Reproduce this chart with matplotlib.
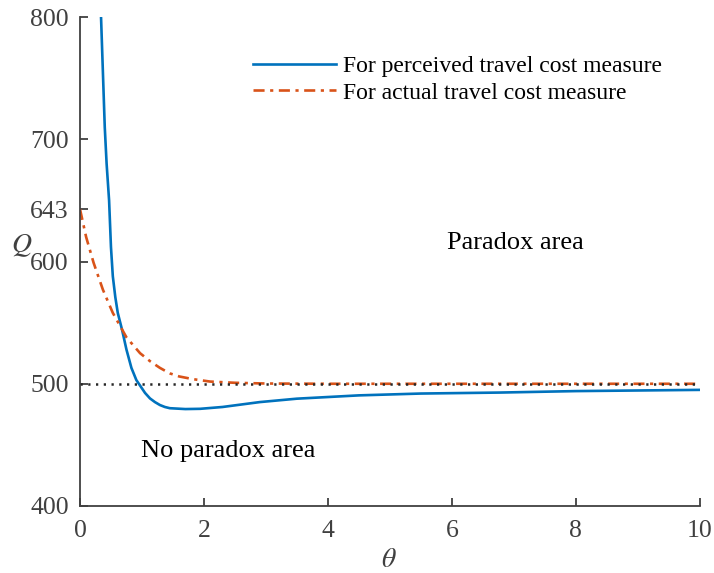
import numpy as np
import matplotlib
matplotlib.use("Agg")
import matplotlib.pyplot as plt

plt.rcParams['font.family'] = ['Liberation Serif', 'DejaVu Serif']
plt.rcParams['mathtext.fontset'] = 'stix'

# perceived travel cost measure
theta_perceived = [0.34, 0.37, 0.40, 0.43, 0.47, 0.50, 0.53, 0.57, 0.61, 0.68,
                   0.75, 0.83, 0.91, 0.97, 1.05, 1.13, 1.21, 1.29, 1.37, 1.45,
                   1.70, 1.94, 2.30, 2.90, 3.50, 4.50, 5.50, 6.77, 8.00, 10.0]
q_perceived = [800, 755, 710, 680, 650, 612, 588, 571, 558, 544,
               528, 513, 503, 498.5, 492.5, 488, 485, 482.6, 481, 480,
               479.3, 479.5, 481, 485, 487.8, 490.5, 492, 492.8, 494, 495]

# actual travel cost measure
theta_actual = [0, 0.10, 0.22, 0.37, 0.53, 0.75, 0.97, 1.13, 1.29, 1.45,
                1.60, 1.82, 2.10, 2.50, 3.00, 4.00, 10.0]
q_actual = [643, 620, 599, 577, 558, 538, 525, 518.5, 513, 508.5,
            506, 503.8, 501.8, 500.8, 500.2, 500, 500]

q_threshold = 500
yticks = [400, 500, 600, 643, 700, 800]
xticks = [0, 2, 4, 6, 8, 10]

fig = plt.figure(figsize=(7.14, 5.73), dpi=100)
ax = fig.add_axes([0.112, 0.117, 0.868, 0.853])

ax.plot(theta_perceived, q_perceived, color='#0072BD', lw=1.9,
        label='For perceived travel cost measure')
ax.plot(theta_actual, q_actual, color='#D95319', lw=1.9,
        linestyle=(0, (4.2, 2.1, 1.2, 2.1)),
        label='For actual travel cost measure')
ax.plot([0, 10], [q_threshold, q_threshold], color='#262626', lw=1.8,
        linestyle=(0, (0.9, 2.2)))

ax.set_xlim(0, 10)
ax.set_ylim(400, 800)
ax.set_xticks(xticks)
ax.set_yticks(yticks)

grey = '#404040'
for side in ['top', 'right']:
    ax.spines[side].set_visible(False)
for side in ['left', 'bottom']:
    ax.spines[side].set_color(grey)
    ax.spines[side].set_linewidth(1.3)
ax.tick_params(direction='in', length=6, width=1.3, colors=grey,
               labelsize=18.5)
ax.tick_params(axis='x', pad=10)
ax.tick_params(axis='y', pad=8)

ax.set_xlabel(r'$\theta$', fontsize=20, color=grey, va='center')
ax.xaxis.set_label_coords(0.498, -0.1125)
ax.set_ylabel(r'$Q$', fontsize=20, color=grey, rotation=0,
              va='center', ha='center')
ax.yaxis.set_label_coords(-0.0935, 0.532)

ax.text(7.03, 615, 'Paradox area', fontsize=19, ha='center', va='center')
ax.text(2.39, 445, 'No paradox area', fontsize=19, ha='center', va='center')

ax.legend(loc='upper left', bbox_to_anchor=(0.264, 0.940), frameon=False,
          fontsize=17, handlelength=3.5, handletextpad=0.3,
          labelspacing=0.2, borderaxespad=0)

fig.savefig('out.png', dpi=100)
